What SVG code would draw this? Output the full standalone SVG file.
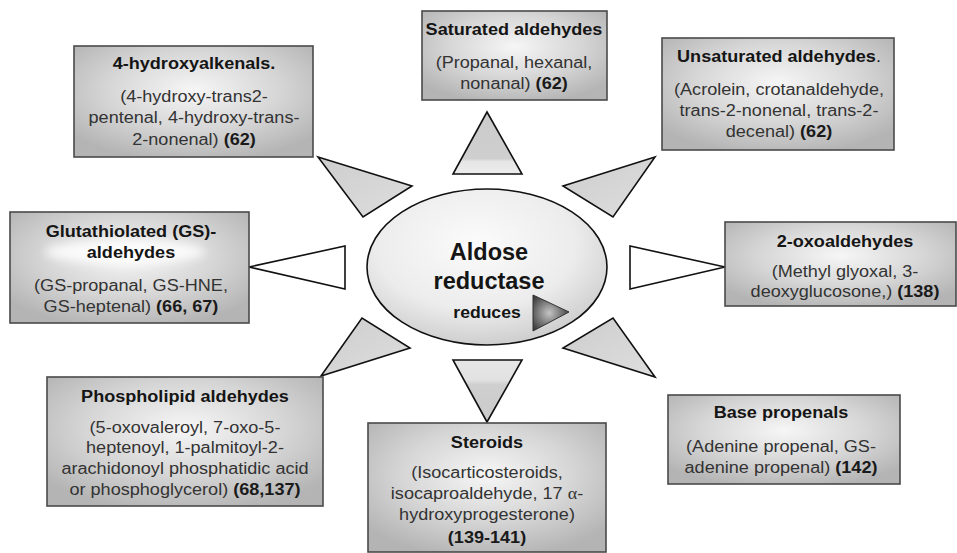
<svg xmlns="http://www.w3.org/2000/svg" width="957" height="553" viewBox="0 0 957 553">
<defs>
<radialGradient id="boxg" cx="50%" cy="40%" r="65%">
<stop offset="0" stop-color="#f6f6f6"/>
<stop offset="0.55" stop-color="#d6d6d6"/>
<stop offset="1" stop-color="#b4b4b4"/>
</radialGradient>
<radialGradient id="ellg" cx="45%" cy="35%" r="70%">
<stop offset="0" stop-color="#fbfbfb"/>
<stop offset="0.6" stop-color="#ececec"/>
<stop offset="1" stop-color="#c8c8c8"/>
</radialGradient>
<linearGradient id="trig" x1="0" y1="0" x2="1" y2="1">
<stop offset="0" stop-color="#cdcdcd"/>
<stop offset="1" stop-color="#dedede"/>
</linearGradient>
<linearGradient id="trtop" x1="0" y1="0" x2="0" y2="1">
<stop offset="0" stop-color="#cbcbcb"/>
<stop offset="0.75" stop-color="#cfcfcf"/>
<stop offset="0.8" stop-color="#e6e6e6"/>
<stop offset="1" stop-color="#ececec"/>
</linearGradient>
<linearGradient id="trbot" x1="0" y1="1" x2="0" y2="0">
<stop offset="0" stop-color="#cbcbcb"/>
<stop offset="0.6" stop-color="#cfcfcf"/>
<stop offset="0.68" stop-color="#e2e2e2"/>
<stop offset="1" stop-color="#e6e6e6"/>
</linearGradient>
<radialGradient id="redg" cx="45%" cy="50%" r="60%">
<stop offset="0" stop-color="#c4c4c4"/>
<stop offset="1" stop-color="#3a3a3a"/>
</radialGradient>
<filter id="blur" x="-20%" y="-50%" width="140%" height="200%">
<feGaussianBlur stdDeviation="5"/>
</filter>
</defs>
<style>
.box{fill:url(#boxg);stroke:#4a4a4a;stroke-width:1.6}
.t{font-family:"Liberation Sans",Arial,sans-serif;font-size:16px;text-anchor:middle;fill:#333}
.h{font-weight:bold;fill:#151515}
.b{font-weight:bold;fill:#1a1a1a}
.tri{fill:url(#trig);stroke:#111;stroke-width:1.6;stroke-linejoin:miter}
.triw{fill:#ffffff;stroke:#111;stroke-width:1.6}
</style>
<rect width="957" height="553" fill="#ffffff"/>

<g id="connectors">
<polygon class="tri" fill="url(#trtop)" style="fill:url(#trtop)" points="487,112 522,174 453,174"/>
<polygon class="tri" points="318,157 412,186 363,217"/>
<polygon class="tri" points="655,157 563,186 613,217"/>
<polygon class="triw" points="249,267 345,246 345,289"/>
<polygon class="triw" points="725,267 630,246 630,289"/>
<polygon class="tri" points="321,376 362,318 410,348"/>
<polygon class="tri" points="655,377 613,318 563,348"/>
<polygon class="tri" style="fill:url(#trbot)" points="453,360 522,360 487,422"/>
</g>

<g id="aldose-reductase">
<ellipse cx="487" cy="267" rx="120" ry="78" fill="url(#ellg)" stroke="#111" stroke-width="1.6"/>
<text class="t h" x="489" y="260" style="font-size:23.5px">Aldose</text>
<text class="t h" x="489" y="289" style="font-size:23.5px">reductase</text>
<g transform="translate(487,0) scale(1.1,1)"><text class="t h" x="0" y="318" style="font-size:16px">reduces</text></g>
<polygon points="533,295 569,312 533,331" fill="url(#redg)" stroke="#333" stroke-width="1"/>
</g>

<g id="hydroxyalkenals">
<rect class="box" x="74" y="46" width="239" height="111"/>
<g transform="translate(194,0) scale(1.13,1)">
<text class="t h" x="0" y="69">4-hydroxyalkenals.</text>
<text class="t" x="0" y="102">(4-hydroxy-trans2-</text>
<text class="t" x="0" y="123">pentenal, 4-hydroxy-trans-</text>
<text class="t" x="0" y="145">2-nonenal) <tspan class="b">(62)</tspan></text>
</g>
</g>

<g id="saturated">
<rect class="box" x="422" y="11" width="185" height="89"/>
<g transform="translate(514,0) scale(1.13,1)">
<text class="t h" x="0" y="35">Saturated aldehydes</text>
<text class="t" x="0" y="68">(Propanal, hexanal,</text>
<text class="t" x="0" y="89">nonanal) <tspan class="b">(62)</tspan></text>
</g>
</g>

<g id="unsaturated">
<rect class="box" x="662" y="38" width="232" height="112"/>
<g transform="translate(779,0) scale(1.13,1)">
<text class="t h" x="0" y="62">Unsaturated aldehydes<tspan style="font-weight:normal">.</tspan></text>
<text class="t" x="0" y="95">(Acrolein, crotanaldehyde,</text>
<text class="t" x="0" y="116">trans-2-nonenal, trans-2-</text>
<text class="t" x="0" y="137">decenal) <tspan class="b">(62)</tspan></text>
</g>
</g>

<g id="glutathiolated">
<rect class="box" x="10" y="212" width="239" height="111"/>
<ellipse cx="125" cy="252" rx="80" ry="12" fill="#ffffff" opacity="0.85" filter="url(#blur)"/>
<g transform="translate(131,0) scale(1.13,1)">
<text class="t h" x="0" y="237">Glutathiolated (GS)-</text>
<text class="t h" x="0" y="258">aldehydes</text>
<text class="t" x="0" y="291">(GS-propanal, GS-HNE,</text>
<text class="t" x="0" y="312">GS-heptenal) <tspan class="b">(66, 67)</tspan></text>
</g>
</g>

<g id="oxoaldehydes">
<rect class="box" x="725" y="222" width="231" height="84"/>
<g transform="translate(845,0) scale(1.13,1)">
<text class="t h" x="0" y="247">2-oxoaldehydes</text>
<text class="t" x="0" y="277">(Methyl glyoxal, 3-</text>
<text class="t" x="0" y="297">deoxyglucosone,) <tspan class="b">(138)</tspan></text>
</g>
</g>

<g id="phospholipid">
<rect class="box" x="47" y="377" width="276" height="129"/>
<g transform="translate(185,0) scale(1.13,1)">
<text class="t h" x="0" y="402">Phospholipid aldehydes</text>
<text class="t" x="0" y="433">(5-oxovaleroyl, 7-oxo-5-</text>
<text class="t" x="0" y="453">heptenoyl, 1-palmitoyl-2-</text>
<text class="t" x="0" y="474">arachidonoyl phosphatidic acid</text>
<text class="t" x="0" y="495">or phosphoglycerol) <tspan class="b">(68,137)</tspan></text>
</g>
</g>

<g id="steroids">
<rect class="box" x="368" y="423" width="238" height="129"/>
<g transform="translate(487,0) scale(1.13,1)">
<text class="t h" x="0" y="448">Steroids</text>
<text class="t" x="0" y="478">(Isocarticosteroids,</text>
<text class="t" x="0" y="499">isocaproaldehyde, 17 <tspan font-family="'Liberation Serif',serif">α</tspan>-</text>
<text class="t" x="0" y="520">hydroxyprogesterone)</text>
<text class="t b" x="0" y="543">(139-141)</text>
</g>
</g>

<g id="base-propenals">
<rect class="box" x="668" y="395" width="232" height="89"/>
<g transform="translate(781,0) scale(1.13,1)">
<text class="t h" x="0" y="418">Base propenals</text>
<text class="t" x="0" y="452">(Adenine propenal, GS-</text>
<text class="t" x="0" y="473">adenine propenal) <tspan class="b">(142)</tspan></text>
</g>
</g>
</svg>
